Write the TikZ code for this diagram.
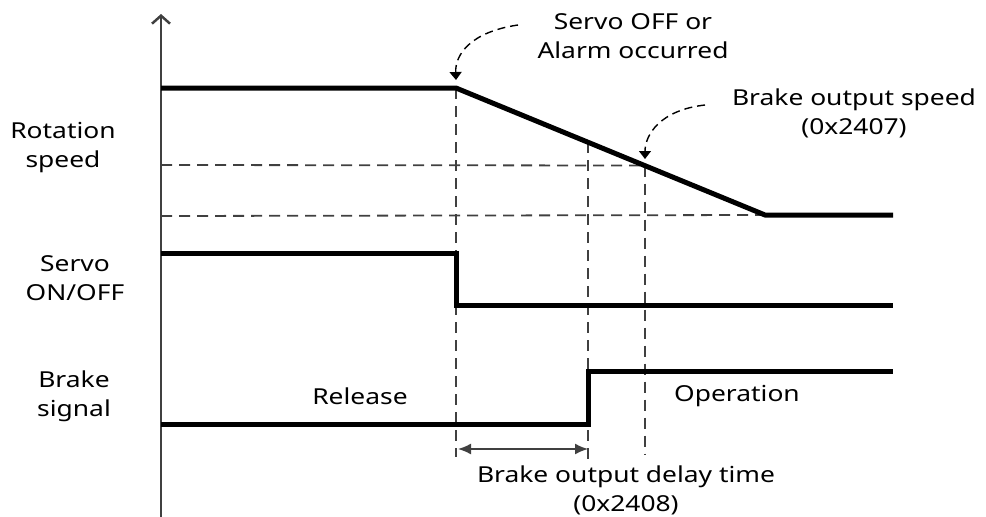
\documentclass[tikz,border=0pt]{standalone}
\usepackage{fontspec}
\setmainfont[FakeStretch=1.2]{Noto Sans}
\usetikzlibrary{arrows.meta}
\definecolor{axisgray}{HTML}{404040}
\tikzset{
  sig/.style={line width=5pt, line cap=butt, line join=miter},
  guide/.style={line width=1.8pt, dash pattern=on 11pt off 7pt, color=axisgray},
  callout/.style={line width=1.4pt, dash pattern=on 8pt off 5pt, -{Triangle[length=8pt,width=12pt]}},
  lbl/.style={font=\fontsize{22}{29}\selectfont, align=center, inner sep=0pt},
}
\begin{document}
\begin{tikzpicture}[x=1pt,y=-1pt]
\useasboundingbox (0,0) rectangle (986,517);
% axis
\coordinate (ax0) at (161,517);
\coordinate (ax1) at (161,14);
\draw[line width=2.5pt, axisgray, -{Straight Barb[length=8pt,width=18pt,line width=2.5pt]}] (ax0) -- (ax1);
% key points
\coordinate (s0) at (161,88);
\coordinate (s1) at (456,88);
\coordinate (s2) at (765,215);
\coordinate (s3) at (893,215);
\coordinate (pd) at (588,142);
\coordinate (pb) at (645,165.5);
% guides
\draw[guide] (161,165) -- (pb);
\draw[guide] (161,216) -- (s2);
\draw[guide] (s1) -- (456,457);
\draw[guide] (pd) -- (588,462);
\draw[guide] (pb) -- (645,455);
% signals
\draw[sig] (s0) -- (s1) -- (s2) -- (s3);
\draw[sig] (161,253) -- (456,253) -- (456,305) -- (893,305);
\draw[sig] (161,424) -- (588,424) -- (588,371) -- (893,371);
% delay arrow
\coordinate (d0) at (458,449);
\coordinate (d1) at (588,449);
\draw[line width=1.6pt, axisgray, {Latex[length=13pt,width=11pt]}-{Latex[length=13pt,width=11pt]}] (d0) -- (d1);
% labels
\node[lbl] (rot) at (63,148) {Rotation\\speed};
\node[lbl] (svo) at (75,278) {Servo\\ON/OFF};
\node[lbl] (brk) at (74,396) {Brake\\signal};
\node[lbl] (rel) at (360,396) {Release};
\node[lbl] (op) at (737,396) {Operation};
\node[lbl] (soff) at (633,36) {Servo OFF or\\Alarm occurred};
\node[lbl] (bos) at (854,113) {Brake output speed\\(0x2407)};
\node[lbl] (bod) at (626,490) {Brake output delay time\\(0x2408)};
% callouts
\coordinate (c1s) at (518,25);
\coordinate (c1e) at (456,80);
\coordinate (c2s) at (705,105);
\coordinate (c2e) at (645,159);
\draw[callout] (c1s) .. controls (470,32) and (455,55) .. (c1e);
\draw[callout] (c2s) .. controls (660,110) and (645,135) .. (c2e);
\end{tikzpicture}
\end{document}
